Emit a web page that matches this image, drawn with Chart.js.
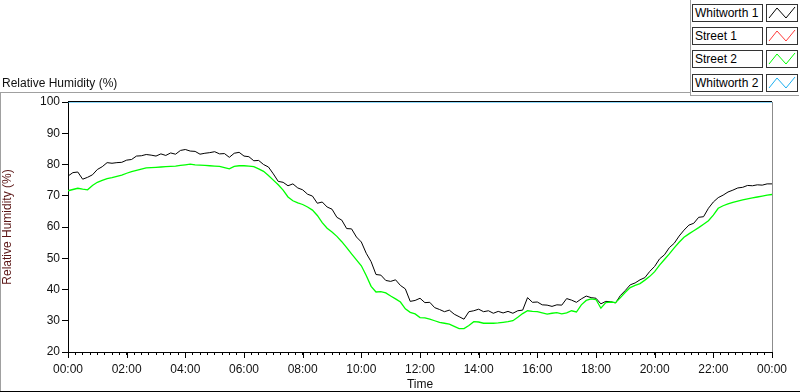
<!DOCTYPE html>
<html>
<head>
<meta charset="utf-8">
<script src="https://cdn.jsdelivr.net/npm/chart.js@4"></script>
<style>
html, body { margin: 0; padding: 0; background: #fff; }
#wrap { position: relative; width: 800px; height: 392px; font-family: "Liberation Sans", Arial, sans-serif; }
#chart { position: absolute; left: 0; top: 0; }
.ttl { position: absolute; left: 2px; top: 76px; font-size: 12px; color: #111; }
.name { position: absolute; left: 692px; width: 71px; height: 18px; border: 1px solid #333; box-sizing: border-box; font-size: 12px; line-height: 16px; padding-left: 2px; background: #fff; }
.swatch { position: absolute; left: 766px; width: 32px; height: 18px; border: 1px solid #333; box-sizing: border-box; background: #fff; }
.swatch svg { position: absolute; left: 0; top: 0; }
</style>
</head>
<body>
<div id="wrap">
  <canvas id="chart" width="800" height="392"></canvas>
  <div class="ttl">Relative Humidity (%)</div>
  <div id="legend"></div>
</div>
<script>
// DATA (one reading every 10 minutes, 00:00 to 24:00)
const SAMPLE_MIN = 10;

const whitworth1 = [
  76.3, 77.4, 77.6, 75.3, 75.9, 76.7, 78.4, 79.3, 80.6, 80.4, 80.6, 80.7,
  81.4, 81.6, 82.7, 82.8, 83.2, 83.0, 82.7, 83.4, 82.9, 83.7, 83.3, 84.5,
  84.8, 84.3, 84.2, 83.3, 83.6, 83.8, 84.1, 83.4, 83.5, 82.3, 83.6, 83.9,
  82.7, 82.5, 81.2, 81.3, 80.0, 79.2, 77.0, 74.6, 74.3, 73.2, 73.8, 72.5,
  71.9, 70.5, 69.9, 67.6, 68.0, 66.4, 65.7, 63.1, 62.2, 59.5, 59.4, 56.8,
  55.2, 51.6, 48.9, 44.8, 44.6, 42.9, 42.6, 43.1, 41.3, 40.2, 36.2, 36.5,
  37.2, 35.8, 35.9, 34.2, 33.6, 32.9, 33.4, 32.1, 31.3, 30.5, 32.9, 33.2,
  33.7, 32.9, 33.2, 32.4, 33.0, 32.5, 33.0, 32.4, 33.2, 33.4, 37.4, 35.9,
  36.0, 35.1, 35.0, 34.6, 35.1, 35.0, 37.1, 36.6, 35.9, 37.0, 37.9, 37.4,
  37.2, 35.4, 36.2, 36.1, 35.7, 38.1, 39.7, 41.5, 42.1, 43.1, 43.8, 45.8,
  47.4, 49.8, 51.1, 53.4, 54.8, 57.1, 59.0, 60.6, 61.2, 63.1, 63.3, 66.0,
  68.0, 69.4, 70.2, 71.2, 71.8, 72.5, 72.7, 73.3, 73.2, 73.5, 73.4, 73.8, 73.8
];

const street2 = [
  71.6, 72.0, 72.4, 72.1, 71.9, 73.3, 74.3, 74.9, 75.5, 75.8, 76.2, 76.6,
  77.2, 77.7, 78.1, 78.5, 78.9, 79.0, 79.1, 79.2, 79.3, 79.4, 79.5, 79.7,
  79.9, 80.1, 79.9, 79.8, 79.7, 79.6, 79.5, 79.4, 79.0, 78.6, 79.4, 79.6,
  79.6, 79.5, 79.3, 78.6, 77.8, 76.5, 75.0, 73.5, 71.8, 69.6, 68.4, 67.7,
  67.2, 66.4, 65.4, 63.7, 61.4, 59.6, 58.4, 57.0, 55.3, 53.4, 51.4, 49.5,
  47.6, 44.5, 41.0, 39.2, 39.3, 38.9, 37.9, 37.0, 36.0, 33.8, 32.7, 32.2,
  31.0, 30.9, 30.5, 30.0, 29.5, 29.2, 28.9, 28.2, 27.5, 27.5, 28.5, 29.7,
  29.6, 29.2, 29.2, 29.2, 29.3, 29.5, 29.7, 30.0, 31.1, 32.3, 33.2, 33.0,
  32.9, 32.5, 32.1, 32.4, 32.6, 32.2, 32.5, 33.2, 32.8, 35.1, 36.5, 37.0,
  36.8, 34.0, 35.8, 36.0, 35.8, 37.4, 39.1, 40.6, 41.3, 41.9, 43.0, 44.2,
  45.7, 47.8, 49.6, 51.4, 53.3, 55.1, 56.7, 57.8, 58.8, 59.8, 60.9, 62.0,
  63.8, 66.0, 66.8, 67.4, 67.9, 68.3, 68.7, 69.0, 69.3, 69.6, 69.9, 70.2, 70.4
];

// Whitworth 2 sits on the 100 % line for the whole day; Street 1 is not drawn
const whitworth2Times = [0, 1440];
const whitworth2 = [100, 100];
const street1 = [];

const seriesNames = ["Whitworth 1", "Street 1", "Street 2", "Whitworth 2"];
const seriesColors = ["#000000", "#ff3b3b", "#00ff00", "#1aaef0"];

const yTicks = [20, 30, 40, 50, 60, 70, 80, 90, 100];
const xTickHours = [0, 2, 4, 6, 8, 10, 12, 14, 16, 18, 20, 22, 24];

function toPoints(values, times) {
  return values.map((v, i) => ({ x: times ? times[i] : i * SAMPLE_MIN, y: v }));
}

function fmtTime(min) {
  const h = Math.floor(min / 60) % 24;
  const m = min % 60;
  return String(h).padStart(2, "0") + ":" + String(m).padStart(2, "0");
}

// LEGEND (LabVIEW style boxes)
const legendTops = [4, 27, 50, 74];
document.getElementById("legend").innerHTML = seriesNames.map((n, i) =>
  `<div class="name" style="top:${legendTops[i]}px">${n}</div>
   <div class="swatch" style="top:${legendTops[i]}px">
     <svg width="30" height="16"><polyline points="2,13 10,3 19,13 28,2" fill="none" stroke="${seriesColors[i]}" stroke-width="1"/></svg>
   </div>`).join("");

// FRAME + EXTRA TICKS
const framePlugin = {
  id: "frame",
  beforeDraw(chart) {
    const c = chart.ctx;
    c.save();
    c.lineWidth = 1;
    c.strokeStyle = "#a0a0a0";
    c.beginPath();
    c.moveTo(0, 92.5); c.lineTo(690, 92.5);
    c.moveTo(0.5, 92); c.lineTo(0.5, 391);
    c.moveTo(690.5, 0); c.lineTo(690.5, 95);
    c.moveTo(690, 95.5); c.lineTo(799, 95.5);
    c.stroke();
    c.strokeStyle = "#000";
    c.beginPath();
    c.moveTo(0, 391.5); c.lineTo(800, 391.5);
    c.stroke();
    c.restore();
  },
  afterDraw(chart) {
    const c = chart.ctx;
    const a = chart.chartArea;
    const xs = chart.scales.x;
    c.save();
    c.lineWidth = 1;
    c.strokeStyle = "#000";
    c.beginPath();
    c.moveTo(a.left, Math.round(a.top) - 0.5); c.lineTo(a.right, Math.round(a.top) - 0.5);
    xTickHours.forEach(h => {
      const px = Math.round(xs.getPixelForValue(h * 60)) + 0.5;
      c.moveTo(px, a.bottom); c.lineTo(px, a.bottom + 6);
    });
    c.stroke();
    c.strokeStyle = "#8c8c8c";
    c.beginPath();
    c.moveTo(Math.round(a.right) + 0.5, a.top); c.lineTo(Math.round(a.right) + 0.5, a.bottom);
    c.stroke();
    c.restore();
  }
};

const font = { family: "'Liberation Sans', Arial, sans-serif", size: 12 };

new Chart(document.getElementById("chart"), {
  type: "line",
  data: {
    datasets: [
      { label: seriesNames[0], data: toPoints(whitworth1), borderColor: seriesColors[0], borderWidth: 1, order: 4 },
      { label: seriesNames[1], data: toPoints(street1), borderColor: seriesColors[1], order: 3 },
      { label: seriesNames[2], data: toPoints(street2), borderColor: seriesColors[2], borderWidth: 1.3, order: 2 },
      { label: seriesNames[3], data: toPoints(whitworth2, whitworth2Times), borderColor: seriesColors[3], order: 1, clip: 3 }
    ]
  },
  options: {
    responsive: false,
    animation: false,
    events: [],
    layout: { padding: { left: 0, right: 28, top: 102, bottom: 0 } },
    elements: {
      point: { radius: 0 },
      line: { borderWidth: 1.2, tension: 0 }
    },
    plugins: { legend: { display: false }, tooltip: { enabled: false } },
    scales: {
      x: {
        type: "linear",
        min: 0,
        max: 1440,
        afterFit: s => { s.height = 40; },
        ticks: {
          stepSize: 15,
          autoSkip: false,
          maxRotation: 0,
          padding: 7,
          color: "#111",
          font: font,
          callback: v => (v % 120 === 0 ? fmtTime(v) : "")
        },
        grid: { display: true, drawOnChartArea: false, tickLength: 3, color: "#000" },
        border: { display: true, color: "#000" },
        title: { display: true, text: "Time", color: "#111", font: font, padding: { top: 0, bottom: 0 } }
      },
      y: {
        min: 20,
        max: 100,
        afterFit: s => { s.width = 68; },
        afterBuildTicks: s => { s.ticks = yTicks.map(v => ({ value: v })); },
        ticks: { padding: 2, color: "#111", font: font },
        grid: { display: true, drawOnChartArea: false, tickLength: 6, color: "#000" },
        border: { display: true, color: "#000" },
        title: { display: true, text: "Relative Humidity (%)", color: "#5a1414", font: font, padding: { top: 0, bottom: 0 } }
      }
    }
  },
  plugins: [framePlugin]
});
</script>
</body>
</html>
